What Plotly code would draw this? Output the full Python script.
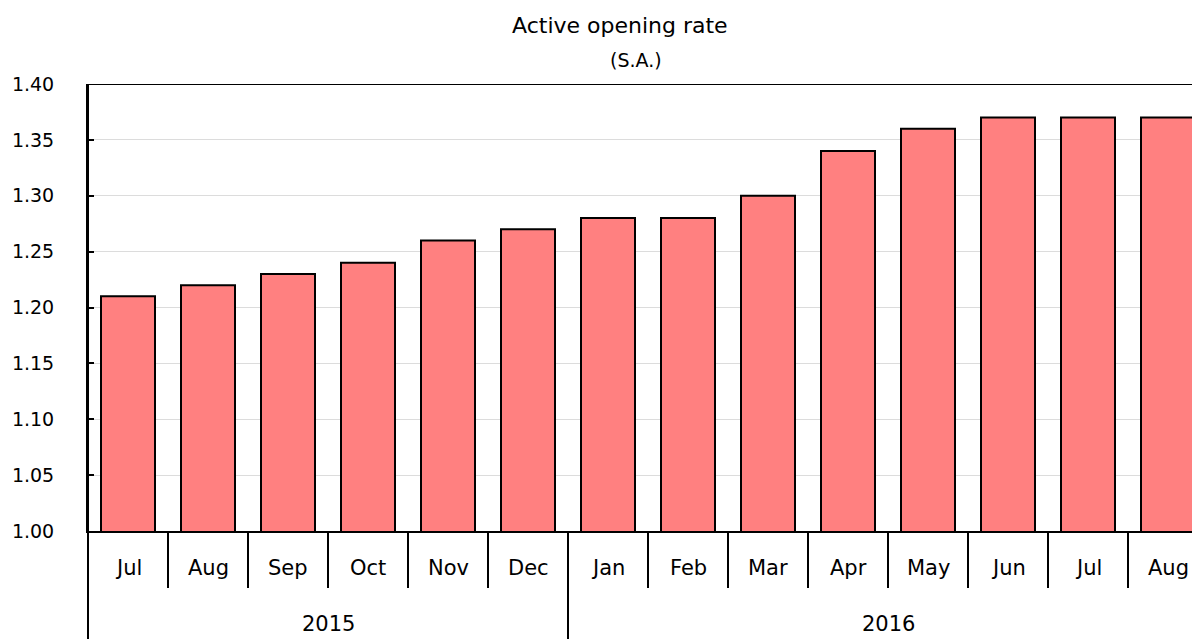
import plotly.graph_objects as go

months = ["Jul", "Aug", "Sep", "Oct", "Nov", "Dec", "Jan", "Feb", "Mar", "Apr", "May", "Jun", "Jul", "Aug"]
years = ["2015", "2016"]
year_counts = [6, 8]
values = [1.21, 1.22, 1.23, 1.24, 1.26, 1.27, 1.28, 1.28, 1.30, 1.34, 1.36, 1.37, 1.37, 1.37]
y_ticks = [1.00, 1.05, 1.10, 1.15, 1.20, 1.25, 1.30, 1.35, 1.40]

FONT = "DejaVu Sans"
OFF = 8  # page body margin
W, H = 1200 - OFF, 639 - OFF
L, T = 88 - OFF, 84 - OFF
B = H - (531 - OFF)
pw = W - L
ph = H - T - B

x = list(range(len(months)))
fig = go.Figure(go.Bar(
    x=x, y=values, width=0.675,
    marker=dict(color="#FF8080", line=dict(color="black", width=2)),
))

shapes = []
annotations = []
# top border
shapes.append(dict(type="line", xref="paper", yref="y", x0=0, x1=1, y0=1.40, y1=1.40,
                   line=dict(color="black", width=2)))
# left border extended down through the category area
shapes.append(dict(type="line", xref="paper", yref="paper", x0=0, x1=0, y0=-B / ph, y1=1,
                   line=dict(color="black", width=2)))
# month separators
for i in range(1, len(months)):
    shapes.append(dict(type="line", xref="x", yref="paper", x0=i - 0.5, x1=i - 0.5,
                       y0=-57 / ph, y1=0, line=dict(color="black", width=2)))
# year separators
pos = 0
for c in year_counts[:-1]:
    pos += c
    shapes.append(dict(type="line", xref="x", yref="paper", x0=pos - 0.5, x1=pos - 0.5,
                       y0=-B / ph, y1=0, line=dict(color="black", width=2)))
# month labels
for i, m in enumerate(months):
    annotations.append(dict(x=i, y=-37 / ph, xref="x", yref="paper", text=m, showarrow=False,
                            font=dict(family=FONT, size=21, color="black"), yanchor="middle"))
# year labels
start = 0
for yname, c in zip(years, year_counts):
    center = start + (c - 1) / 2
    annotations.append(dict(x=center, y=-93 / ph, xref="x", yref="paper", text=yname, showarrow=False,
                            font=dict(family=FONT, size=21, color="black"), yanchor="middle"))
    start += c
# titles
annotations.append(dict(x=(620 - OFF - L) / pw, y=1 + (T - (25 - OFF)) / ph, xref="paper", yref="paper",
                        text="Active opening rate", showarrow=False, yanchor="middle",
                        font=dict(family=FONT, size=22, color="black")))
annotations.append(dict(x=(636 - OFF - L) / pw, y=1 + (T - (60 - OFF)) / ph, xref="paper", yref="paper",
                        text="(S.A.)", showarrow=False, yanchor="middle",
                        font=dict(family=FONT, size=19, color="black")))

fig.update_layout(
    width=W, height=H,
    margin=dict(l=L, r=0, t=T, b=B, pad=0),
    plot_bgcolor="white", paper_bgcolor="white",
    showlegend=False,
    shapes=shapes, annotations=annotations,
    font=dict(family=FONT, size=19, color="black"),
    xaxis=dict(range=[-0.5, -0.5 + pw / 80], showticklabels=False, ticks="", showgrid=False,
               zeroline=False, showline=True, linecolor="black", linewidth=2, fixedrange=True),
    yaxis=dict(range=[1.0, 1.4], tickvals=y_ticks, ticktext=[f"{v:.2f}" for v in y_ticks],
               showgrid=True, gridcolor="#dcdcdc", gridwidth=1, zeroline=False,
               showline=True, linecolor="black", linewidth=2,
               ticks="inside", ticklen=6, tickwidth=2, tickcolor="black",
               ticklabelstandoff=28, tickfont=dict(family=FONT, size=19, color="black")),
)

fig.write_html("out.html")
